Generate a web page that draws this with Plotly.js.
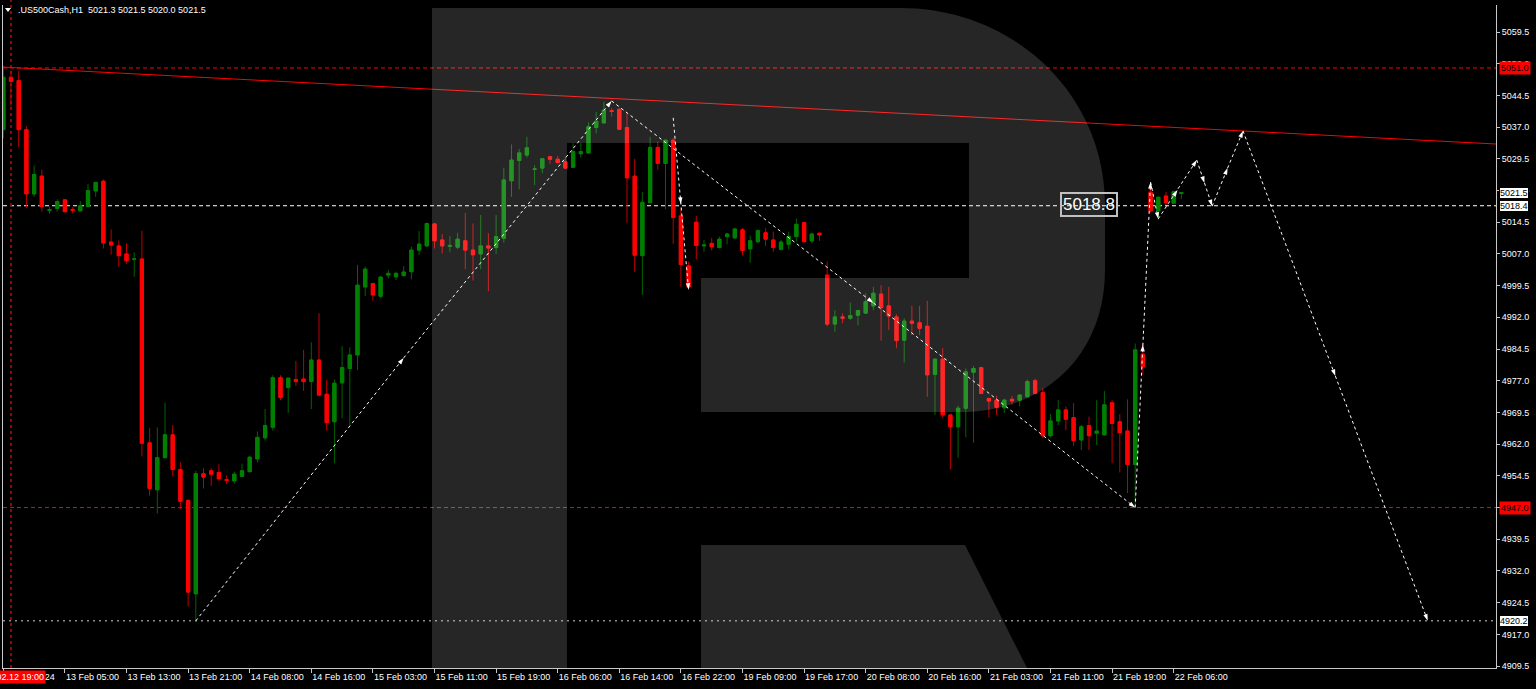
<!DOCTYPE html>
<html><head><meta charset="utf-8">
<script src="https://cdn.plot.ly/plotly-3.0.1.min.js"></script>
<style>html,body{margin:0;padding:0;background:#000;overflow:hidden}#chart{width:1536px;height:689px}</style>
</head><body><div id="chart"></div>
<script>
// ---- data: hourly candles (bar index = position) ----
const opens = [5036.4,5048.8,5048.0,5036.4,5021.2,5025.4,5017.3,5017.8,5019.8,5017.5,
5017.2,5018.2,5021.9,5024.2,5009.8,5008.9,5007.0,5005.7,5005.8,4962.3,
4951.2,4958.8,4964.2,4956.0,4948.7,4926.6,4955.0,4955.7,4955.3,4953.6,
4953.3,4954.4,4955.5,4958.5,4963.5,4966.0,4977.7,4975.4,4977.3,4977.4,
4976.8,4981.9,4973.8,4967.3,4976.5,4979.9,4983.1,4999.2,5000.0,4997.0,
5002.0,5001.6,5001.9,5002.8,5007.9,5008.9,5014.1,5010.3,5008.8,5008.6,
5010.1,5007.9,5007.0,5008.9,5008.5,5010.7,5024.3,5029.1,5030.4,5027.0,
5027.3,5030.0,5029.4,5028.8,5027.5,5030.7,5030.9,5036.9,5038.0,5040.9,
5041.2,5036.9,5025.4,5006.6,5019.1,5032.2,5028.4,5033.9,5016.0,5004.2,
5014.5,5008.9,5009.5,5008.5,5011.1,5010.8,5012.7,5008.2,5009.9,5012.0,
5010.3,5008.1,5009.3,5011.1,5014.4,5010.1,5011.9,5002.0,4990.4,4992.1,
4991.8,4992.5,4993.0,4994.7,4997.5,4994.7,4992.1,4986.6,4991.1,4990.7,
4989.9,4978.5,4982.1,4968.9,4966.1,4970.5,4979.0,4980.1,4972.8,4972.4,
4970.6,4972.6,4972.4,4973.2,4977.0,4974.2,4964.0,4967.5,4970.1,4968.3,
4963.0,4966.4,4964.6,4964.2,4971.8,4967.3,4965.1,4957.2,4983.3,5021.6,
5017.2,5020.7,5019.0,5021.3];
const highs = [5051.5,5050.3,5050.3,5037.2,5027.9,5026.9,5018.2,5019.9,5019.9,5018.1,
5019.5,5023.6,5024.1,5024.6,5012.8,5010.2,5009.5,5007.4,5012.5,4965.8,
4966.0,4971.8,4966.5,4957.7,4948.9,4955.7,4956.3,4956.3,4957.2,4954.6,
4955.5,4957.4,4959.2,4965.0,4970.3,4978.3,4978.3,4977.8,4981.7,4984.3,
4986.1,4993.0,4977.2,4977.3,4985.2,4984.9,5004.4,5004.0,5000.1,5001.8,
5003.2,5002.8,5004.1,5008.7,5012.4,5014.4,5014.2,5011.7,5011.2,5012.0,
5016.7,5014.2,5016.2,5011.9,5016.2,5027.4,5032.9,5031.8,5034.7,5028.0,
5029.7,5030.2,5030.2,5030.0,5033.2,5033.2,5038.1,5040.6,5043.0,5041.5,
5041.5,5040.3,5029.5,5021.6,5034.7,5033.6,5034.1,5034.4,5017.8,5005.2,
5016.0,5010.3,5010.8,5011.1,5012.0,5013.2,5013.1,5011.3,5012.8,5013.1,
5012.3,5010.3,5012.3,5015.4,5014.6,5012.0,5011.9,5005.2,4993.7,4992.9,
4995.5,4993.8,4997.7,4999.2,4999.6,4999.2,4992.7,4991.8,4994.7,4994.7,
4995.9,4982.3,4984.7,4969.1,4971.1,4979.9,4980.5,4980.3,4973.0,4973.4,
4972.7,4973.4,4973.8,4977.3,4977.5,4975.2,4969.1,4972.4,4970.9,4971.7,
4966.5,4968.5,4972.4,4974.6,4972.4,4969.1,4972.6,4985.8,4985.8,5023.5,
5020.6,5021.7,5022.0,5021.5];
const lows = [5034.3,5041.9,5032.3,5017.8,5020.5,5017.0,5016.5,5017.0,5016.8,5016.6,
5017.0,5018.1,5020.5,5008.3,5006.8,5004.0,5004.7,5001.6,4959.1,4949.8,
4945.6,4958.7,4954.4,4946.6,4923.6,4920.2,4951.5,4952.1,4953.2,4952.6,
4952.6,4954.3,4955.3,4957.7,4962.9,4965.2,4972.4,4969.4,4975.8,4974.6,
4970.3,4973.4,4965.2,4957.5,4968.1,4966.5,4979.5,4997.0,4995.9,4996.5,
5001.2,5000.8,5001.6,5001.0,5006.7,5008.7,5008.3,5007.1,5007.5,5008.1,
5003.4,5000.7,5003.4,4998.2,5007.0,5009.7,5020.5,5022.3,5029.8,5023.3,
5026.1,5028.3,5028.4,5027.1,5027.3,5029.8,5030.7,5035.5,5037.9,5039.5,
5036.3,5014.4,5002.8,4997.3,5019.0,5026.9,5017.6,5009.4,4999.2,4998.5,
5005.7,5007.5,5007.8,5008.3,5009.3,5010.6,5006.7,5004.9,5009.5,5008.9,
5007.5,5007.8,5008.1,5009.9,5009.7,5009.5,5010.1,4989.9,4988.6,4990.6,
4991.4,4990.1,4992.8,4993.7,4986.5,4989.0,4984.7,4981.3,4987.8,4987.8,
4973.2,4968.9,4968.1,4956.0,4958.8,4963.6,4962.3,4973.8,4968.3,4968.9,
4969.4,4971.3,4970.9,4973.0,4973.8,4963.4,4963.6,4966.5,4965.3,4961.6,
4960.6,4960.6,4961.8,4964.0,4957.5,4955.3,4950.4,4947.2,4978.4,5016.8,
5015.0,5018.6,5018.8,5020.0];
const closes = [5048.8,5047.8,5036.4,5021.2,5025.8,5018.2,5017.5,5019.4,5017.0,5017.3,
5018.4,5022.0,5023.9,5009.6,5009.1,5006.6,5005.4,5005.8,4962.2,4951.5,
4958.8,4964.2,4956.0,4948.5,4927.0,4955.0,4954.2,4954.9,4953.8,4953.4,
4954.9,4955.7,4958.9,4963.6,4966.4,4977.7,4973.0,4977.6,4976.8,4976.8,
4981.9,4973.6,4967.1,4976.4,4980.1,4983.1,4999.6,5003.4,4997.3,5001.5,
5002.4,5002.4,5002.7,5007.9,5009.3,5014.2,5010.1,5008.9,5009.0,5010.5,
5007.9,5006.8,5008.9,5008.4,5011.1,5024.5,5029.2,5030.9,5032.1,5027.1,
5029.5,5029.4,5028.6,5027.3,5031.2,5031.2,5037.1,5038.4,5041.0,5040.7,
5036.5,5025.0,5006.7,5019.2,5032.2,5028.4,5033.9,5015.6,5004.5,4999.2,
5009.0,5009.1,5008.7,5010.5,5011.7,5012.9,5007.8,5010.1,5012.5,5010.5,
5008.5,5009.8,5011.1,5014.0,5009.9,5011.7,5011.5,4990.4,4992.1,4991.8,
4992.4,4993.6,4995.7,4997.7,4994.3,4992.3,4986.5,4991.1,4990.6,4989.4,
4978.4,4982.1,4968.9,4966.1,4970.5,4979.1,4979.9,4974.0,4972.2,4970.7,
4972.4,4972.2,4973.6,4976.8,4974.0,4964.0,4967.5,4970.1,4967.9,4962.8,
4966.1,4964.0,4965.1,4971.3,4966.9,4964.7,4957.2,4984.3,4980.3,5017.2,
5020.4,5019.1,5021.7,5021.5];

const xTickBars = [0,8,16,24,32,40,48,56,64,72,80,88,96,104,112,120,128,136,144,152];
const xTickLabels = ["12 Feb 2024","13 Feb 05:00","13 Feb 13:00","13 Feb 21:00","14 Feb 08:00",
"14 Feb 16:00","15 Feb 03:00","15 Feb 11:00","15 Feb 19:00","16 Feb 06:00","16 Feb 14:00",
"16 Feb 22:00","19 Feb 09:00","19 Feb 17:00","20 Feb 08:00","20 Feb 16:00","21 Feb 03:00",
"21 Feb 11:00","21 Feb 19:00","22 Feb 06:00"];
const yTickValues = [5059.5,5052.0,5044.5,5037.0,5029.5,5022.0,5014.5,5007.0,4999.5,4992.0,
4984.5,4977.0,4969.5,4962.0,4954.5,4947.0,4939.5,4932.0,4924.5,4917.0,4909.5];

// drawn objects
const zigzagBars = [25,52,79,113,147,148,149,150,152.5,155,156,157,159,161,173,185];
const zigzagPrices = [4920.2,4982.4,5043.2,4995.4,4947.0,4985.5,5024.0,5015.3,5022.1,5029.2,5023.8,5018.3,5027.3,5036.1,4978.1,4920.2];
const subZigzagBars = [87,88,89];
const subZigzagPrices = [5039.2,5018.8,4998.5];
const trendBars = [-0.04,193.86];
const trendPrices = [5051.2,5033.0];
const redLevels = [5051.0,4947.0];
const whiteLevels = [5018.4,4920.2];
const bidPrice = 5021.5;
const markerBar = 1;
const titleText = ".US500Cash,H1  5021.3 5021.5 5020.0 5021.5";
const noteText = "5018.8";
const markerTime = "2024.02.12 19:00";

// ---- build ----
const idx = opens.map((_, i) => i);
const bodyHi = opens.map((o, i) => Math.max(o, closes[i]));
const bodyLo = opens.map((o, i) => Math.min(o, closes[i]));
const FONT = "Liberation Sans, Arial, sans-serif";

// pixel helpers for decorative placement (plot area: x 3..1496, y 5..668)
const PL = 3, PW = 1493, PB = 668, PH = 663;
const px = x => (x - PL) / PW;
const py = y => (PB - y) / PH;
const P = (x, y) => px(x).toFixed(5) + ',' + py(y).toFixed(5);

const traces = [
  { type: 'candlestick', x: idx, open: opens, high: highs, low: lows, close: closes,
    increasing: { line: { color: '#006400', width: 1 }, fillcolor: '#006400' },
    decreasing: { line: { color: '#c00000', width: 1 }, fillcolor: '#c00000' },
    hoverinfo: 'skip', showlegend: false },
  { type: 'candlestick', x: idx, open: opens, high: bodyHi, low: bodyLo, close: closes,
    increasing: { line: { color: '#008000', width: 1 }, fillcolor: '#008000' },
    decreasing: { line: { color: '#ff0000', width: 1 }, fillcolor: '#ff0000' },
    hoverinfo: 'skip', showlegend: false },
  { type: 'scatter', mode: 'lines', x: trendBars, y: trendPrices,
    line: { color: '#ff0000', width: 1 }, hoverinfo: 'skip', showlegend: false, cliponaxis: true },
  { type: 'scatter', mode: 'lines+markers', x: zigzagBars, y: zigzagPrices,
    line: { color: '#ffffff', width: 1, dash: '3px,3px' },
    marker: { symbol: 'arrow', size: 7, color: '#ffffff', angleref: 'previous' },
    hoverinfo: 'skip', showlegend: false, cliponaxis: false },
  { type: 'scatter', mode: 'lines+markers', x: subZigzagBars, y: subZigzagPrices,
    line: { color: '#ffffff', width: 1, dash: '3px,3px' },
    marker: { symbol: 'arrow', size: 7, color: '#ffffff', angleref: 'previous' },
    hoverinfo: 'skip', showlegend: false }
];

const shapes = [];
redLevels.forEach(v => shapes.push({ type: 'line', xref: 'paper', x0: 0, x1: 1, yref: 'y', y0: v, y1: v,
  line: { color: '#ff0000', width: 1, dash: '4px,3px' }, layer: 'below' }));
shapes.push({ type: 'line', xref: 'paper', x0: 0, x1: 1, yref: 'y', y0: whiteLevels[0], y1: whiteLevels[0],
  line: { color: '#ffffff', width: 1, dash: '4px,3px' }, layer: 'below' });
shapes.push({ type: 'line', xref: 'paper', x0: 0, x1: 1, yref: 'y', y0: whiteLevels[1], y1: whiteLevels[1],
  line: { color: '#d0d0d0', width: 1, dash: '2px,4px' }, layer: 'below' });
shapes.push({ type: 'line', xref: 'x', x0: markerBar, x1: markerBar, yref: 'paper', y0: 0, y1: py(0),
  line: { color: '#a00000', width: 2, dash: '3px,3px' }, layer: 'below' });

// watermark "R"
const rPath = 'M' + P(432, 8) + ' L' + P(900, 8) + ' C' + P(1015, 8) + ' ' + P(1105, 95) + ' ' + P(1105, 205)
  + ' L' + P(1105, 270) + ' C' + P(1105, 355) + ' ' + P(1045, 412) + ' ' + P(960, 412)
  + ' L' + P(701, 412) + ' L' + P(701, 278) + ' L' + P(969, 278) + ' L' + P(969, 143)
  + ' L' + P(567, 143) + ' L' + P(567, 668) + ' L' + P(432, 668) + ' Z';
const legPath = 'M' + P(701, 545) + ' L' + P(965, 545) + ' L' + P(1027, 668) + ' L' + P(701, 668) + ' Z';
[rPath, legPath].forEach(p => shapes.push({ type: 'path', xref: 'paper', yref: 'paper', path: p,
  fillcolor: '#ffffff', opacity: 0.15, line: { width: 0 }, layer: 'above' }));
// little menu triangle
shapes.push({ type: 'path', xref: 'paper', yref: 'paper', path: 'M' + P(5, 8) + ' L' + P(11, 8) + ' L' + P(8, 12) + ' Z',
  fillcolor: '#ffffff', line: { width: 0 }, layer: 'above' });

const annotations = [
  { xref: 'paper', yref: 'paper', x: px(16), y: py(10), xanchor: 'left', yanchor: 'middle', showarrow: false,
    text: titleText, font: { family: FONT, size: 9, color: '#ffffff' } },
  { xref: 'paper', yref: 'paper', x: px(1118), y: py(204.5), xanchor: 'right', yanchor: 'middle', showarrow: false,
    text: noteText, font: { family: FONT, size: 17, color: '#ffffff' }, bordercolor: '#c0c0c0', borderwidth: 2, borderpad: 1 },
  { xref: 'paper', yref: 'paper', x: px(46), y: py(677), xanchor: 'right', yanchor: 'middle', showarrow: false,
    text: markerTime, bgcolor: '#ff0000', font: { family: FONT, size: 9, color: '#ffffff' }, borderpad: 1 }
];
redLevels.forEach(v => annotations.push({ xref: 'paper', yref: 'y', x: px(1499), y: v, xanchor: 'left', yanchor: 'middle',
  showarrow: false, text: v.toFixed(1), bgcolor: '#ff0000', font: { family: FONT, size: 9, color: '#000000' }, borderpad: 1 }));
[bidPrice].concat(whiteLevels).forEach(v => annotations.push({ xref: 'paper', yref: 'y', x: px(1499), y: v, xanchor: 'left', yanchor: 'middle',
  showarrow: false, text: v.toFixed(1), bgcolor: '#ffffff', bordercolor: '#000000', borderwidth: 1,
  font: { family: FONT, size: 9, color: '#000000' }, borderpad: 0 }));

const layout = {
  width: 1536, height: 689,
  margin: { l: PL, r: 1536 - PL - PW, t: PB - PH, b: 689 - PB },
  paper_bgcolor: '#000000', plot_bgcolor: '#000000',
  showlegend: false, boxgap: 0.4, boxmode: 'overlay',
  xaxis: { range: [-0.04, 193.86], rangeslider: { visible: false }, showgrid: false, zeroline: false,
    showline: true, linecolor: '#c8c8c8', linewidth: 1, ticks: 'outside', ticklen: 4, tickcolor: '#c8c8c8',
    tickvals: xTickBars, ticktext: xTickLabels, ticklabelposition: 'outside right', tickangle: 0,
    tickfont: { family: FONT, size: 9, color: '#ffffff' }, fixedrange: true },
  yaxis: { range: [4909.04, 5065.89], side: 'right', showgrid: false, zeroline: false,
    showline: true, mirror: true, linecolor: '#c8c8c8', linewidth: 1, ticks: 'outside', ticklen: 3, tickcolor: '#c8c8c8',
    tickvals: yTickValues, ticktext: yTickValues.map(v => v.toFixed(1)),
    tickfont: { family: FONT, size: 9, color: '#ffffff' }, fixedrange: true },
  shapes: shapes, annotations: annotations
};

Plotly.newPlot('chart', traces, layout, { staticPlot: true, displayModeBar: false });
</script></body></html>
